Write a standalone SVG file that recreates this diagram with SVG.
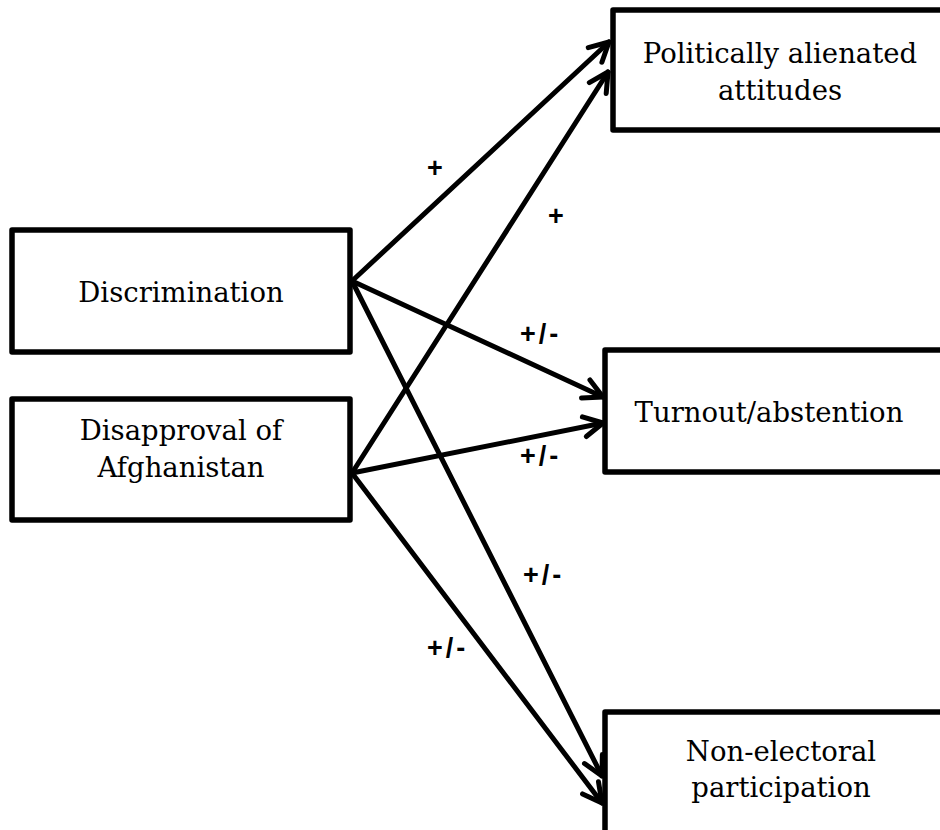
<svg xmlns="http://www.w3.org/2000/svg" width="940" height="830" viewBox="0 0 940 830">
<style>
.box{fill:#fff;stroke:#000;stroke-width:5.5;stroke-linejoin:round}
.t{font-family:"DejaVu Serif","Liberation Serif",serif;font-size:27.5px;fill:#000;text-anchor:middle}
.c{stroke:#000;stroke-width:5;fill:none;stroke-linecap:round}
.l{font-family:"Liberation Sans",Arial,sans-serif;font-weight:bold;font-size:27px;fill:#000;letter-spacing:3px}
</style>
<defs>
<marker id="arr" viewBox="-24 -14 28 28" refX="0" refY="0" markerWidth="28" markerHeight="28" markerUnits="userSpaceOnUse" orient="auto">
<path d="M-19,-10 L0,0 L-19,10" fill="none" stroke="#000" stroke-width="5" stroke-linecap="round" stroke-linejoin="round"/>
</marker>
</defs>
<rect width="940" height="830" fill="#fff"/>
<g id="connectors">
<line class="c" x1="352" y1="281" x2="609" y2="42" marker-end="url(#arr)"/>
<line class="c" x1="352" y1="473" x2="608" y2="72" marker-end="url(#arr)"/>
<line class="c" x1="352" y1="281" x2="603" y2="397" marker-end="url(#arr)"/>
<line class="c" x1="352" y1="473" x2="603" y2="423" marker-end="url(#arr)"/>
<line class="c" x1="352" y1="281" x2="602" y2="776" marker-end="url(#arr)"/>
<line class="c" x1="352" y1="473" x2="602" y2="803" marker-end="url(#arr)"/>
<text class="l" x="427" y="177">+</text>
<text class="l" x="548" y="225">+</text>
<text class="l" x="520" y="343">+/-</text>
<text class="l" x="520" y="465">+/-</text>
<text class="l" x="523" y="584">+/-</text>
<text class="l" x="427" y="657">+/-</text>
</g>
<g id="discrimination">
<rect class="box" x="12" y="230" width="338" height="122"/>
<text class="t" x="181" y="302">Discrimination</text>
</g>
<g id="disapproval">
<rect class="box" x="12" y="399" width="338" height="121"/>
<text class="t" x="181" y="440">Disapproval of</text>
<text class="t" x="181" y="477">Afghanistan</text>
</g>
<g id="alienated">
<rect class="box" x="613" y="10" width="340" height="120"/>
<text class="t" x="780" y="63">Politically alienated</text>
<text class="t" x="780" y="100">attitudes</text>
</g>
<g id="turnout">
<rect class="box" x="605" y="350" width="345" height="122"/>
<text class="t" x="769" y="422">Turnout/abstention</text>
</g>
<g id="nonelectoral">
<rect class="box" x="605" y="712" width="345" height="130"/>
<text class="t" x="781" y="761">Non-electoral</text>
<text class="t" x="781" y="797">participation</text>
</g>
</svg>
